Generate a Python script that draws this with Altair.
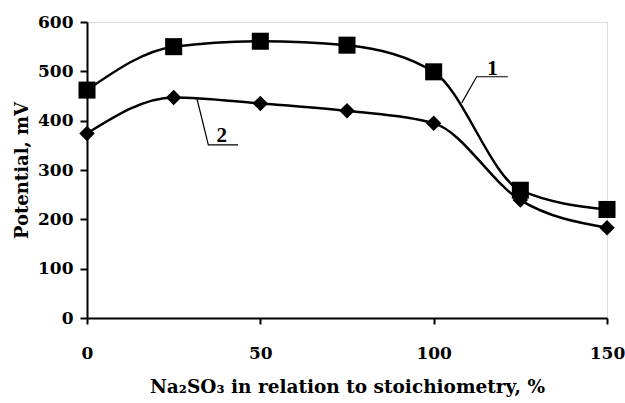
import altair as alt
import pandas as pd

x_vals = [0, 25, 50, 75, 100, 125, 150]
series1 = [462, 550, 561, 553, 499, 259, 220]
series2 = [374, 447, 435, 420, 395, 239, 183]

# leader lines for curve labels (data coordinates)
lead1_x = [108.1, 112.4, 121.4]
lead1_y = [436, 489, 489]
lead2_x = [31.6, 35.0, 43.6]
lead2_y = [448, 351, 351]
label_text = ["1", "2"]
label_x = [117.0, 38.9]
label_y = [493, 356]

FONT = "DejaVu Serif"

df = pd.DataFrame({
    "x": x_vals * 2,
    "y": series1 + series2,
    "s": ["1"] * len(x_vals) + ["2"] * len(x_vals),
})
lead = pd.DataFrame({
    "x": lead1_x + lead2_x,
    "y": lead1_y + lead2_y,
    "g": ["1"] * 3 + ["2"] * 3,
    "o": [0, 1, 2] * 2,
})
labels = pd.DataFrame({"x": label_x, "y": label_y, "t": label_text})

xs = alt.Scale(domain=[0, 150], nice=False)
ys = alt.Scale(domain=[0, 600], nice=False)

xenc = alt.X("x:Q", scale=xs, axis=alt.Axis(
    values=[0, 50, 100, 150], title="Na₂SO₃ in relation to stoichiometry, %",
    grid=False, domainColor="black", domainWidth=2, tickColor="black", tickWidth=2,
    tickSize=6, labelFont=FONT, labelFontSize=17, labelFontWeight="bold",
    labelColor="black", labelPadding=21, titleFont=FONT, titleFontSize=18.5,
    titleFontWeight="bold", titleColor="black", titlePadding=16, labelFlush=False))
yenc = alt.Y("y:Q", scale=ys, axis=alt.Axis(
    values=[0, 100, 200, 300, 400, 500, 600], title="Potential, mV",
    grid=False, domainColor="black", domainWidth=2, tickColor="black", tickWidth=2,
    tickSize=7, labelFont=FONT, labelFontSize=17, labelFontWeight="bold",
    labelColor="black", labelPadding=7, titleFont=FONT, titleFontSize=18,
    titleFontWeight="bold", titleColor="black", titlePadding=6))

lines = alt.Chart(df).mark_line(
    interpolate="monotone", color="black", strokeWidth=2.5
).encode(x=xenc, y=yenc, detail="s:N")

pts1 = alt.Chart(df[df.s == "1"]).mark_point(
    shape="square", filled=True, color="black", size=290, opacity=1
).encode(x="x:Q", y="y:Q")
pts2 = alt.Chart(df[df.s == "2"]).mark_point(
    shape="diamond", filled=True, color="black", size=240, opacity=1
).encode(x="x:Q", y="y:Q")

leaders = alt.Chart(lead).mark_line(color="black", strokeWidth=1.2).encode(
    x="x:Q", y="y:Q", detail="g:N", order="o:Q")
texts = alt.Chart(labels).mark_text(
    font="Liberation Serif", fontSize=21, fontWeight="bold", color="black",
    baseline="alphabetic"
).encode(x="x:Q", y="y:Q", text="t:N")

chart = alt.layer(lines, pts1, pts2, leaders, texts).properties(
    width=520, height=296,
    padding={"left": 87, "top": 22, "right": 18, "bottom": 85},
    autosize=alt.AutoSizeParams(type="none"),
).configure_view(stroke="black", strokeWidth=2).configure(background="white")

chart.save("out.html", embed_options={"renderer": "svg", "actions": False})
